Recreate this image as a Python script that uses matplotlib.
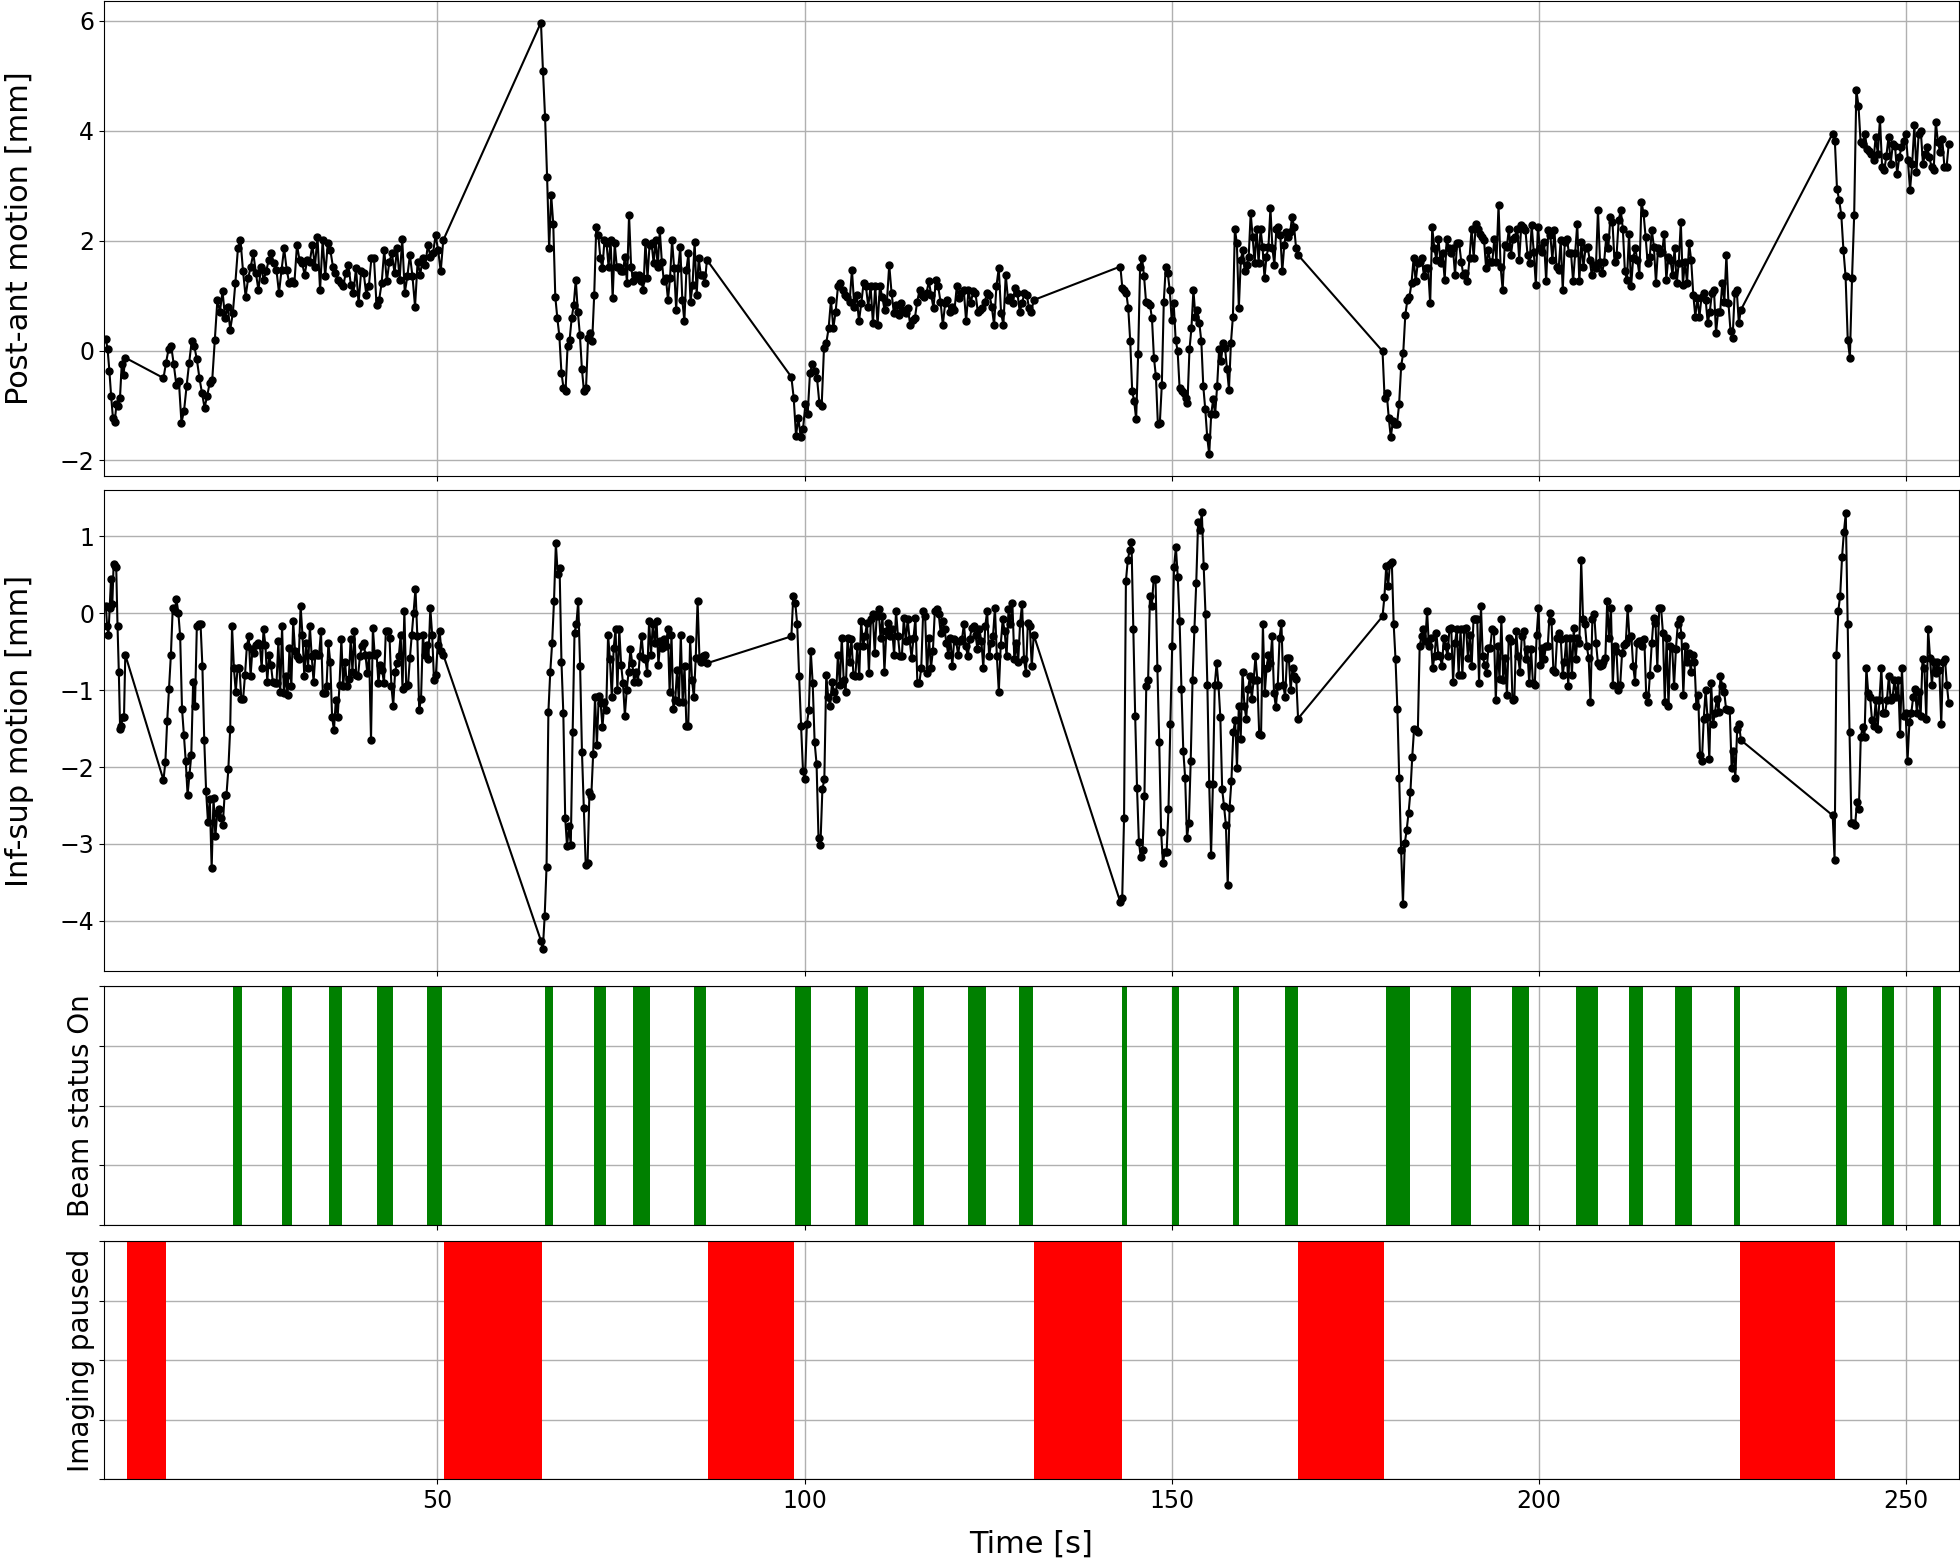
import numpy as np
import matplotlib.pyplot as plt

# segments of continuous imaging (start / end time in s)
seg_t0 = [4.85, 12.7, 64.1, 98.2, 143.0, 178.7, 240.0]
seg_t1 = [7.5, 50.8, 86.7, 131.2, 167.2, 227.5, 255.8]

# post-ant motion [mm], one list per segment
pa_s0 = [0.21, 0.02, -0.37, -0.83, -1.22, -1.30, -0.98, -1.0, -0.86, -0.24, -0.44, -0.13]
pa_s1 = [-0.50, -0.22, 0.03, 0.08, -0.25, -0.62, -0.56, -1.31, -1.1, -0.65, -0.22, 0.17, 0.08, -0.16,
         -0.5, -0.77, -1.04, -0.83, -0.59, -0.53, 0.2, 0.92, 0.71, 1.08, 0.59, 0.8, 0.38, 0.68, 1.23, 1.86,
         2.01, 1.44, 0.98, 1.32, 1.53, 1.77, 1.41, 1.1, 1.53, 1.29, 1.44, 1.65, 1.77, 1.59, 1.47, 1.05,
         1.47, 1.86, 1.47, 1.23, 1.26, 1.23, 1.92, 1.65, 1.59, 1.38, 1.65, 1.62, 1.92, 1.53, 2.07, 1.1,
         2.01, 1.35, 1.95, 1.83, 1.53, 1.41, 1.29, 1.23, 1.17, 1.41, 1.56, 1.2, 1.05, 1.5, 0.86, 1.44,
         1.41, 1.02, 1.17, 1.68, 1.68, 0.83, 0.92, 1.23, 1.83, 1.26, 1.62, 1.77, 1.41, 1.86, 1.29, 2.04,
         1.05, 1.35, 1.74, 1.35, 0.8, 1.62, 1.38, 1.68, 1.56, 1.92, 1.71, 1.77, 2.1, 1.83, 1.44, 2.01]
pa_s2 = [5.97, 5.08, 4.26, 3.16, 1.86, 2.83, 2.31, 0.98, 0.59, 0.26, -0.4, -0.68, -0.74, 0.08, 0.2,
         0.59, 0.83, 1.29, 0.71, 0.29, -0.34, -0.74, -0.68, 0.23, 0.32, 0.17, 1.02, 2.25, 2.1, 1.68, 1.5,
         2.01, 1.95, 1.53, 2.01, 0.95, 1.95, 1.53, 1.53, 1.44, 1.44, 1.71, 1.23, 2.47, 1.53, 1.26, 1.38,
         1.32, 1.38, 1.26, 1.1, 1.98, 1.32, 1.92, 1.95, 1.59, 2.01, 1.53, 2.19, 1.62, 1.26, 1.32, 0.92,
         1.32, 2.01, 1.5, 0.74, 1.5, 1.89, 0.92, 0.53, 1.47, 1.77, 0.89, 1.2, 1.98, 1.02, 1.68, 1.38,
         1.38, 1.23, 1.65]
pa_s3 = [-0.48, -0.86, -1.55, -1.22, -1.58, -1.43, -0.98, -1.16, -0.4, -0.25, -0.37, -0.5, -0.95, -1.01,
         0.05, 0.14, 0.41, 0.92, 0.41, 0.71, 1.17, 1.23, 1.1, 1.02, 0.98, 0.89, 1.47, 0.8, 1.02, 0.53,
         0.86, 1.23, 1.17, 0.8, 1.17, 0.5, 1.17, 0.47, 1.17, 0.98, 0.74, 0.89, 1.56, 1.05, 0.68, 0.83,
         0.65, 0.86, 0.74, 0.68, 0.77, 0.47, 0.56, 0.59, 0.89, 1.1, 1.02, 0.98, 1.05, 1.26, 1.02, 0.77,
         1.29, 1.17, 0.89, 0.47, 0.86, 0.92, 0.71, 0.8, 0.74, 1.17, 0.95, 1.05, 1.1, 0.53, 1.1, 0.86,
         1.08, 1.05, 0.71, 0.74, 0.77, 0.89, 1.05, 1.02, 0.8, 0.47, 1.17, 1.5, 0.68, 0.47, 1.38, 0.92,
         0.98, 0.86, 1.14, 1.05, 0.71, 0.86, 1.05, 1.02, 0.77, 0.71, 0.92]
pa_s4 = [1.53, 1.14, 1.1, 1.05, 0.77, 0.17, -0.74, -0.92, -1.25, -0.07, 1.53, 1.68, 1.35, 0.89, 0.86,
         0.83, 0.59, -0.13, -0.47, -1.34, -1.31, -0.62, 0.89, 1.53, 1.41, 1.1, 0.56, 0.86, 0.2, -0.01,
         -0.68, -0.74, -0.77, -0.86, -0.95, 0.02, 0.41, 1.1, 0.62, 0.74, 0.5, 0.17, -0.65, -1.07, -1.58,
         -1.89, -1.16, -0.89, -1.16, -0.65, 0.02, -0.19, 0.14, 0.05, -0.34, -0.71, 0.14, 0.62, 2.22,
         1.95, 0.77, 1.65, 1.83, 1.44, 1.56, 1.71, 2.5, 2.07, 1.59, 2.22, 1.59, 2.22, 1.89, 1.32, 1.71,
         1.89, 2.59, 1.86, 1.56, 2.22, 2.25, 2.1, 1.44, 1.92, 2.16, 2.07, 2.16, 2.44, 2.25, 1.86, 1.74]
pa_s5 = [-0.01, -0.86, -0.77, -1.22, -1.58, -1.28, -1.34, -1.34, -0.98, -0.28, -0.04, 0.65, 0.92, 0.98,
         1.23, 1.68, 1.26, 1.59, 1.62, 1.68, 1.35, 1.5, 1.5, 0.86, 2.25, 1.86, 1.65, 2.04, 1.59, 1.77,
         1.29, 2.04, 1.86, 1.77, 1.86, 1.38, 1.95, 1.95, 1.62, 1.38, 1.41, 1.26, 1.68, 2.22, 1.68, 2.31,
         2.22, 2.13, 2.07, 2.01, 1.5, 1.83, 1.62, 1.62, 2.04, 1.62, 2.65, 1.53, 1.1, 1.92, 1.89, 2.22,
         1.74, 2.04, 2.07, 2.22, 1.65, 2.28, 2.25, 2.19, 1.74, 1.59, 2.28, 1.8, 1.2, 2.25, 1.86, 1.8,
         1.98, 1.26, 2.19, 2.1, 1.65, 2.19, 1.53, 1.47, 2.01, 1.1, 1.98, 2.04, 1.77, 1.77, 1.26, 1.77,
         2.31, 1.26, 1.98, 1.53, 1.86, 1.89, 1.65, 1.38, 1.56, 1.5, 2.56, 1.62, 1.41, 1.62, 2.07, 1.86,
         2.44, 2.34, 1.62, 1.74, 2.37, 2.56, 2.22, 1.44, 1.29, 2.13, 1.17, 1.68, 1.86, 1.65, 1.38, 2.71,
         2.5, 2.07, 1.59, 1.71, 2.19, 1.89, 1.23, 1.86, 1.77, 1.8, 2.13, 1.29, 1.71, 1.65, 1.38, 1.86,
         1.23, 1.59, 2.34, 1.2, 1.62, 1.23, 1.95, 1.65, 1.02, 0.62, 0.95, 0.62, 0.98, 1.05, 0.92, 0.5,
         0.71, 1.05, 1.1, 0.32, 0.71, 0.71, 1.23, 0.89, 1.74, 0.86, 0.35, 0.23, 1.05, 1.1, 0.5, 0.74]
pa_s6 = [3.95, 3.82, 2.95, 2.74, 2.47, 1.83, 1.35, 0.2, -0.13, 1.32, 2.47, 4.74, 4.46, 3.79, 3.76, 3.95,
         3.67, 3.64, 3.58, 3.46, 3.89, 3.58, 4.22, 3.34, 3.28, 3.55, 3.89, 3.4, 3.76, 3.73, 3.22, 3.52,
         3.7, 3.82, 3.95, 3.46, 2.92, 3.4, 4.1, 3.25, 3.95, 4.0, 3.4, 3.58, 3.7, 3.52, 3.34, 3.28, 4.16,
         3.79, 3.61, 3.85, 3.34, 3.34, 3.76]

# inf-sup motion [mm], one list per segment
is_s0 = [0.1, -0.17, -0.28, 0.07, 0.45, 0.12, 0.64, 0.62, 0.6, -0.16, -0.76, -1.5, -1.46, -1.35, -1.35, -0.54]
is_s1 = [-2.17, -1.94, -1.4, -0.98, -0.54, 0.07, 0.03, 0.18, 0.01, -0.3, -1.24, -1.59, -1.92, -2.36, -2.11,
         -1.85, -0.89, -1.2, -0.17, -0.14, -0.14, -0.69, -1.65, -2.31, -2.71, -2.42, -3.32, -2.4, -2.9,
         -2.6, -2.55, -2.66, -2.75, -2.36, -2.36, -2.03, -1.5, -0.17, -0.71, -1.02, -0.71, -0.71, -1.11,
         -1.11, -0.8, -0.43, -0.3, -0.82, -0.47, -0.52, -0.41, -0.39, -0.41, -0.71, -0.21, -0.41, -0.89,
         -0.54, -0.67, -0.89, -0.91, -0.91, -0.36, -1.02, -0.17, -1.04, -0.82, -1.06, -0.45, -0.95, -0.1,
         -0.49, -0.56, -0.6, 0.1, -0.28, -0.82, -0.39, -0.71, -0.17, -0.56, -0.89, -0.52, -0.54, -0.54,
         -0.23, -1.04, -1.04, -0.95, -0.39, -0.63, -1.35, -1.52, -1.13, -1.35, -0.93, -0.34, -0.95, -0.63,
         -0.95, -0.85, -0.34, -0.76, -0.23, -0.8, -0.82, -0.56, -0.43, -0.39, -0.54, -0.78, -0.54, -1.65,
         -0.19, -0.54, -0.52, -0.91, -0.67, -0.74, -0.91, -0.23, -0.23, -0.32, -0.95, -1.2, -0.76, -0.65,
         -0.56, -0.28, -0.98, 0.03, -0.95, -0.93, -0.58, -0.28, 0.01, 0.32, -0.3, -1.26, -1.11, -0.28,
         -0.54, -0.41, -0.6, 0.07, -0.28, -0.87, -0.8, -0.41, -0.23, -0.49, -0.54]
is_s2 = [-4.26, -4.37, -3.94, -3.3, -1.28, -0.76, -0.39, 0.16, 0.91, 0.51, 0.59, -0.63, -1.3, -2.66,
         -3.03, -2.77, -3.01, -1.55, -0.25, -0.14, 0.16, -0.69, -1.81, -2.53, -3.27, -3.25, -2.33, -2.38,
         -1.83, -1.09, -1.72, -1.07, -1.17, -1.48, -1.15, -1.26, -0.28, -0.6, -1.09, -0.45, -0.21, -1.0,
         -0.21, -0.67, -0.91, -1.33, -1.0, -0.76, -0.47, -0.65, -0.89, -0.76, -0.89, -0.56, -0.3, -0.58,
         -0.6, -0.78, -0.1, -0.54, -0.14, -0.39, -0.1, -0.67, -0.36, -0.45, -0.34, -0.43, -0.21, -1.02,
         -0.28, -1.24, -1.13, -0.74, -1.15, -0.28, -1.15, -0.69, -1.46, -1.46, -0.34, -0.87, -1.09, -0.58,
         0.16, -0.58, -0.63, -0.56, -0.54, -0.65]
is_s3 = [-0.3, 0.23, 0.14, -0.14, -0.82, -1.46, -2.05, -2.16, -1.44, -1.26, -0.49, -0.91, -1.68, -1.96,
         -2.92, -3.01, -2.29, -2.16, -0.8, -1.09, -1.21, -0.89, -1.02, -1.11, -0.54, -0.93, -0.32, -0.87,
         -1.02, -0.32, -0.63, -0.34, -0.8, -0.82, -0.43, -0.82, -0.1, -0.43, -0.3, -0.12, -0.78, -0.08,
         -0.01, -0.52, -0.04, 0.05, -0.32, -0.04, -0.76, -0.23, -0.12, -0.3, -0.21, -0.54, 0.03, -0.3,
         -0.56, -0.56, -0.06, -0.36, -0.08, -0.34, -0.58, -0.32, -0.06, -0.91, -0.91, -0.71, 0.03, -0.04,
         -0.78, -0.32, -0.71, -0.49, 0.03, 0.05, -0.01, -0.25, -0.1, -0.21, -0.39, -0.54, -0.32, -0.69,
         -0.34, -0.36, -0.54, -0.36, -0.34, -0.14, -0.43, -0.56, -0.34, -0.19, -0.17, -0.28, -0.47, -0.21,
         -0.36, -0.71, -0.17, 0.03, -0.56, -0.39, -0.3, 0.07, -0.56, -1.02, -0.41, -0.08, -0.23, -0.56,
         0.05, -0.14, 0.14, -0.6, -0.39, -0.63, -0.12, 0.12, -0.6, -0.78, -0.12, -0.17, -0.69, -0.28]
is_s4 = [-3.76, -3.71, -2.66, 0.42, 0.69, 0.82, 0.93, -0.21, -1.33, -2.27, -2.97, -3.17, -3.08, -2.38,
         -0.95, -0.87, 0.23, 0.1, 0.45, 0.45, -0.71, -1.68, -2.84, -3.25, -3.1, -3.1, -2.55, -1.44, -0.43,
         0.6, 0.86, 0.47, -0.1, -0.98, -1.79, -2.14, -2.92, -2.73, -1.92, -0.87, -0.21, 0.4, 1.19, 1.08,
         1.32, 0.62, -0.01, -0.93, -2.22, -3.14, -2.22, -0.93, -0.65, -0.93, -1.35, -2.29, -2.51, -2.75,
         -3.54, -2.53, -2.18, -1.55, -1.39, -2.01, -1.2, -1.63, -0.76, -1.2, -1.37, -0.98, -0.82, -1.11,
         -0.87, -0.56, -0.87, -1.57, -1.59, -0.14, -1.04, -0.71, -0.54, -0.65, -0.3, -1.04, -1.22, -0.95,
         -0.32, -0.12, -0.93, -1.09, -0.58, -0.58, -1.0, -0.71, -0.82, -0.85, -1.37]
is_s5 = [-0.04, 0.21, 0.62, 0.36, 0.64, 0.67, -0.14, -0.6, -1.24, -2.14, -3.08, -3.78, -2.99, -2.82,
         -2.6, -2.33, -1.87, -1.5, -1.52, -1.55, -0.43, -0.3, -0.21, -0.36, 0.03, -0.43, -0.32, -0.71,
         -0.56, -0.25, -0.54, -0.56, -0.69, -0.32, -0.43, -0.56, -0.21, -0.19, -0.89, -0.39, -0.21, -0.8,
         -0.21, -0.8, -0.21, -0.19, -0.58, -0.28, -0.69, -0.08, -0.08, -0.08, -0.91, 0.1, -0.56, -0.67,
         -0.78, -0.45, -0.45, -0.21, -0.23, -1.13, -0.43, -0.85, -0.08, -0.87, -0.58, -1.06, -0.32, -0.36,
         -1.13, -1.11, -0.23, -0.56, -0.76, -0.3, -0.23, -0.6, -0.47, -0.91, -0.47, -0.91, -0.93, -0.28,
         0.07, -0.67, -0.45, -0.6, -0.43, -0.43, 0.01, -0.1, -0.74, -0.76, -0.32, -0.25, -0.34, -0.8,
         -0.63, -0.32, -0.95, -0.32, -0.8, -0.19, -0.6, -0.32, -0.39, 0.69, -0.08, -0.14, -0.43, -0.58,
         -1.15, -0.08, -0.01, -0.39, -0.65, -0.69, -0.67, -0.63, -0.58, 0.16, -0.32, 0.07, -0.93, -0.43,
         -0.49, -1.0, -0.93, -0.52, -0.41, -0.39, 0.07, -0.32, -0.3, -0.69, -0.89, -0.39, -0.36, -0.36,
         -0.43, -0.34, -1.06, -1.15, -0.8, -0.39, -0.06, -0.12, -0.71, 0.07, 0.07, -0.25, -1.15, -0.32,
         -1.2, -0.43, -0.45, -0.95, -0.47, -0.14, -0.08, -0.28, -1.06, -0.43, -0.63, -0.52, -0.76, -0.54,
         -0.63, -1.2, -1.06, -1.85, -1.92, -1.37, -1.0, -1.35, -1.9, -0.91, -1.44, -1.3, -1.11, -1.28,
         -0.82, -0.95, -1.02, -1.24, -1.26, -1.26, -2.01, -1.79, -2.14, -1.5, -1.44, -1.65]
is_s6 = [-2.63, -3.21, -0.54, 0.03, 0.23, 0.73, 1.06, 1.3, -0.14, -1.55, -2.73, -2.73, -2.75, -2.46,
         -2.55, -1.61, -1.48, -1.61, -0.71, -1.04, -1.09, -1.39, -1.46, -1.13, -1.5, -1.13, -0.71, -1.3,
         -1.3, -1.13, -0.82, -1.13, -1.09, -0.87, -1.09, -0.87, -1.57, -0.71, -1.33, -1.3, -1.92, -1.41,
         -1.3, -1.09, -0.98, -1.3, -1.02, -1.33, -0.6, -0.71, -1.37, -0.21, -0.58, -0.93, -0.63, -0.78,
         -0.63, -0.74, -1.44, -0.63, -0.6, -0.93, -1.17]

# beam on windows [s]
beam_start = [22.2, 28.8, 35.3, 41.8, 48.6, 64.6, 71.3, 76.6, 85.0, 98.7, 106.8, 114.7, 122.2, 129.2,
              143.2, 150.0, 158.3, 165.4, 179.2, 188.0, 196.3, 205.0, 212.3, 218.5, 226.5, 240.5, 246.7, 253.7]
beam_end = [23.4, 30.2, 37.0, 44.0, 50.6, 65.7, 73.0, 78.9, 86.6, 100.9, 108.7, 116.3, 124.7, 131.1,
            143.9, 151.0, 159.2, 167.2, 182.4, 190.7, 198.6, 208.1, 214.2, 220.9, 227.4, 242.0, 248.3, 254.7]

# imaging paused windows [s]
pause_start = [7.7, 50.9, 86.8, 131.2, 167.2, 227.4]
pause_end = [13.0, 64.2, 98.6, 143.2, 178.9, 240.3]


def build_series(segments):
    t_all, v_all = [], []
    for t0, t1, vals in zip(seg_t0, seg_t1, segments):
        t_all.append(np.linspace(t0, t1, len(vals)))
        v_all.append(np.array(vals))
    return np.concatenate(t_all), np.concatenate(v_all)


t_pa, pa = build_series([pa_s0, pa_s1, pa_s2, pa_s3, pa_s4, pa_s5, pa_s6])
t_is, isup = build_series([is_s0, is_s1, is_s2, is_s3, is_s4, is_s5, is_s6])

W, H = 1960, 1561
fig = plt.figure(figsize=(19.6, 15.61), dpi=100)

left = 104 / W
width = (1959 - 104) / W


def rect(y_top, y_bot):
    return [left, 1 - y_bot / H, width, (y_bot - y_top) / H]


ax1 = fig.add_axes(rect(1, 476))
ax2 = fig.add_axes(rect(490, 971), sharex=ax1)
ax3 = fig.add_axes(rect(986, 1225), sharex=ax1)
ax4 = fig.add_axes(rect(1241, 1479), sharex=ax1)

label_fs = 22
small_label_fs = 20
tick_fs = 17

ax1.plot(t_pa, pa, "-o", color="black", linewidth=1.5, markersize=5)
ax1.set_ylabel("Post-ant motion [mm]", fontsize=label_fs)
ax1.set_yticks([-2, 0, 2, 4, 6])

ax2.plot(t_is, isup, "-o", color="black", linewidth=1.5, markersize=5)
ax2.set_ylabel("Inf-sup motion [mm]", fontsize=label_fs)

for a, b in zip(beam_start, beam_end):
    ax3.axvspan(a, b, facecolor="green", edgecolor="none")
ax3.set_ylim(0, 1)
ax3.set_ylabel("Beam status On", fontsize=small_label_fs)

for a, b in zip(pause_start, pause_end):
    ax4.axvspan(a, b, facecolor="red", edgecolor="none")
ax4.set_ylim(0, 1)
ax4.set_ylabel("Imaging paused", fontsize=small_label_fs)
ax4.set_xlabel("Time [s]", fontsize=label_fs, labelpad=12)

for ax in (ax3, ax4):
    ax.set_yticks([0, 0.25, 0.5, 0.75, 1.0])
    ax.set_yticklabels([])
    ax.yaxis.set_label_coords(-0.005, 0.5)

for ax in (ax1, ax2, ax3, ax4):
    ax.grid(True, color="#b0b0b0", linewidth=1.0)
    ax.set_axisbelow(True)
    ax.tick_params(labelsize=tick_fs)

for ax in (ax1, ax2):
    ax.yaxis.set_label_coords(-0.038, 0.5)

for ax in (ax1, ax2, ax3):
    ax.tick_params(labelbottom=False)

ax1.set_xlim(4.6, 257.2)
ax1.set_xticks([50, 100, 150, 200, 250])

fig.savefig("out.png", dpi=100)
